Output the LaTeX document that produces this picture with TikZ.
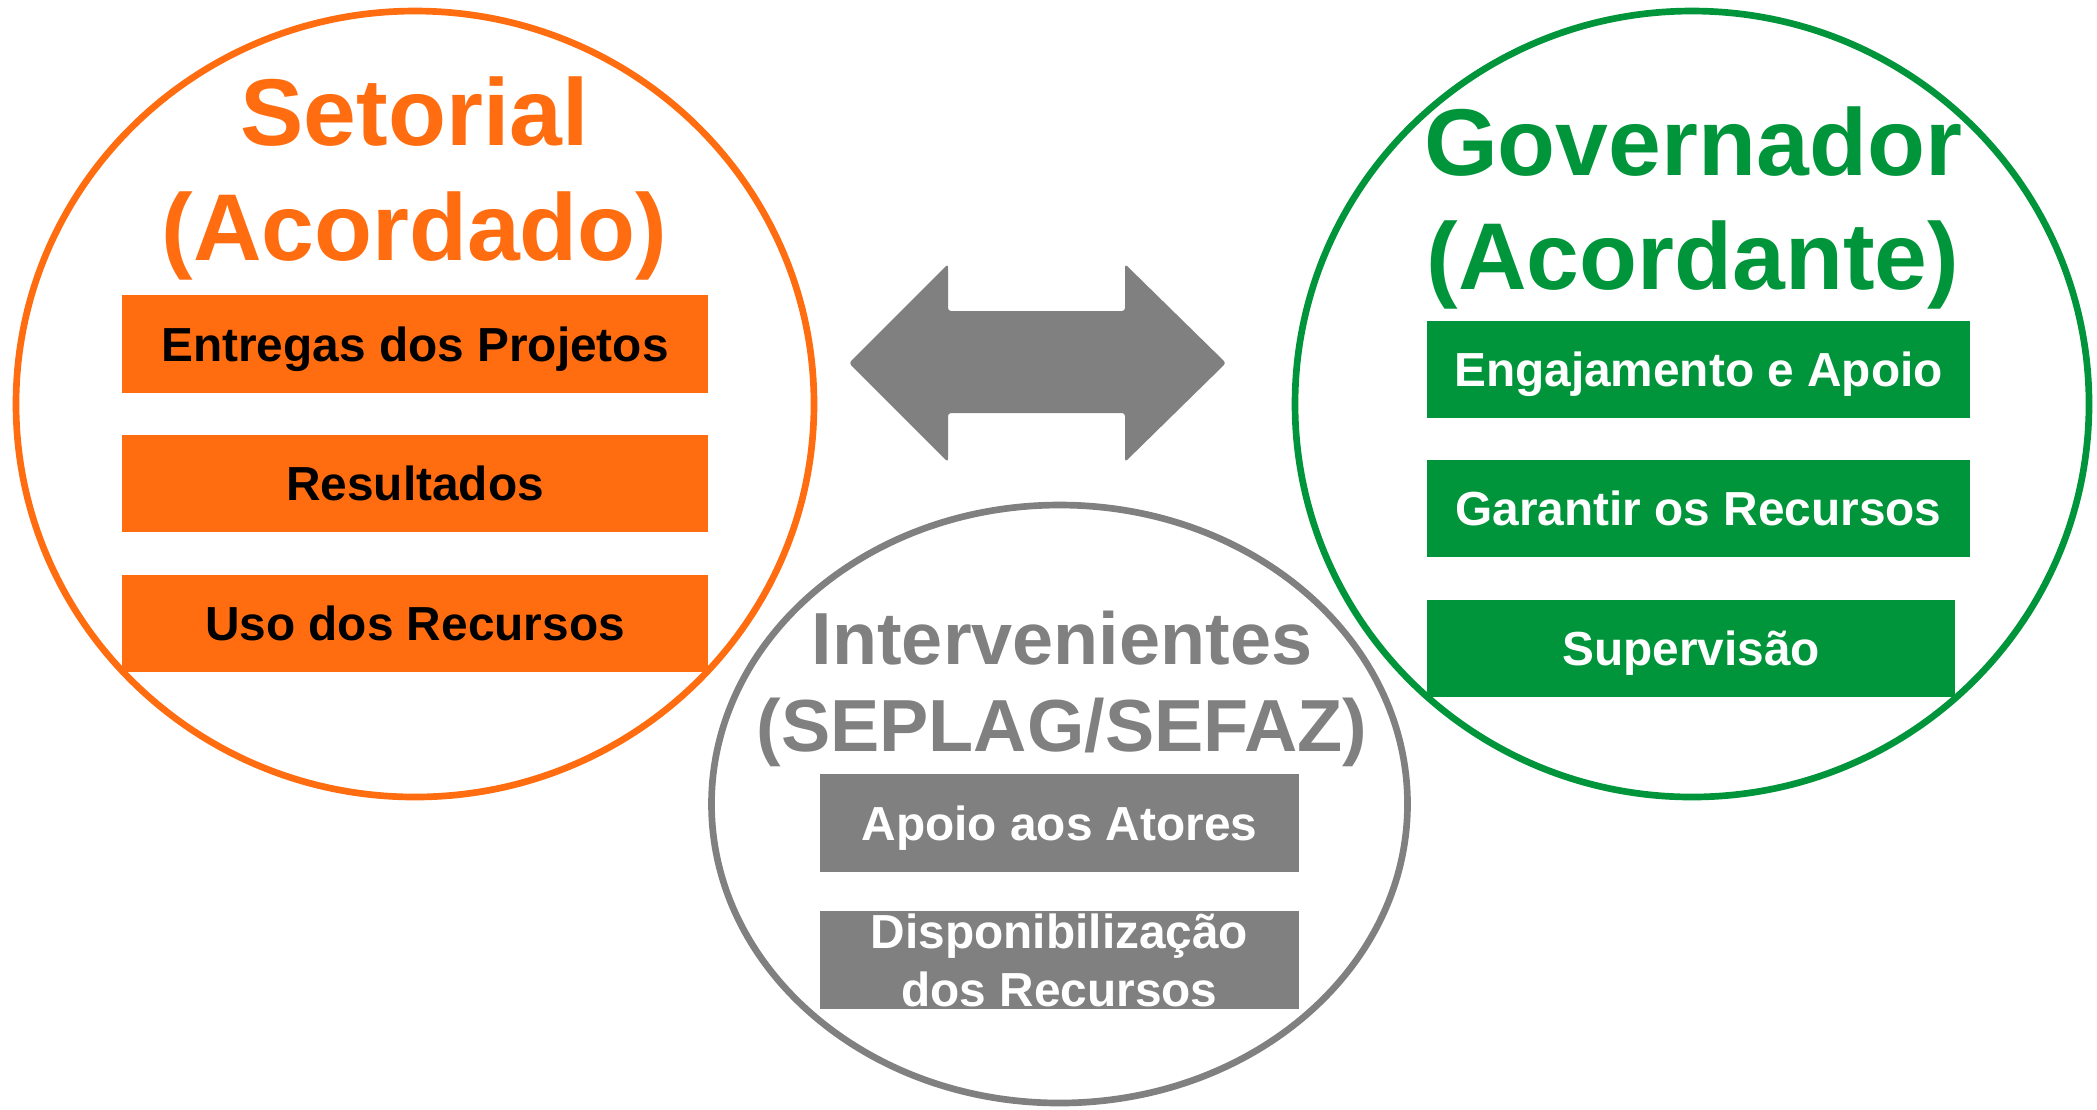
\documentclass[tikz,border=0pt]{standalone}
\usepackage{fontspec}
\setmainfont{Liberation Sans}
\usetikzlibrary{shapes.geometric}

\begin{document}
\begin{tikzpicture}[x=0.1mm,y=-0.1mm,
  ring/.style={ellipse,draw,line width=1.9pt,inner sep=0pt},
  bigtitle/.style={anchor=base,font=\bfseries\fontsize{27}{33}\selectfont},
  midtitle/.style={anchor=base,font=\bfseries\fontsize{21}{25}\selectfont},
  task/.style={rectangle,inner sep=0pt,minimum height=9.75mm,text height=3.4mm,text depth=0pt,
    font=\bfseries\fontsize{13.6}{16.4}\selectfont}]
\definecolor{orangeset}{HTML}{FF6D10}
\definecolor{greengov}{HTML}{00953A}
\definecolor{grayint}{HTML}{808080}
\useasboundingbox (0,0) rectangle (2097,1109);
% the three actors
\node [ring,draw=orangeset,minimum width=79.8mm,minimum height=78.6mm] (setorial) at (415,404) {};
\node [ring,draw=greengov,minimum width=79.4mm,minimum height=78.6mm] (governador) at (1692,404) {};
\node [ring,draw=grayint,minimum width=69.6mm,minimum height=59.8mm] (interv) at (1059.5,804) {};
% double arrow between Setorial and Governador
\fill [grayint,rounded corners=0.3mm] (849,363) -- (948,264) -- (948,311) -- (1125,311) -- (1125,264)
  -- (1226,363) -- (1125,462) -- (1125,413) -- (948,413) -- (948,462) -- cycle;
% titles
\node [bigtitle,text=orangeset] (setT1) at (414.5,145) {Setorial};
\node [bigtitle,text=orangeset] (setT2) at (414.5,260) {(Acordado)};
\node [bigtitle,text=greengov] (govT1) at (1693,175) {Governador};
\node [bigtitle,text=greengov] (govT2) at (1693,289) {(Acordante)};
\node [midtitle,text=grayint] (intT1) at (1062,664) {Intervenientes};
\node [midtitle,text=grayint] (intT2) at (1062,751) {(SEPLAG/SEFAZ)};
% boxes
\foreach \name/\txt/\ypos in {entregas/Entregas dos Projetos/344,resultados/Resultados/483.5,uso/Uso dos Recursos/623.5}
  {\node [task,fill=orangeset,text=black,minimum width=58.6mm] (\name) at (415,\ypos) {\txt};}
\foreach \name/\txt/\ypos in {engaj/Engajamento e Apoio/369.5,garantir/Garantir os Recursos/508.5}
  {\node [task,fill=greengov,text=white,minimum width=54.3mm] (\name) at (1698.5,\ypos) {\txt};}
\node [task,fill=greengov,text=white,minimum width=52.8mm] (superv) at (1691,648.5) {Supervisão};
\node [task,fill=grayint,text=white,minimum width=47.9mm] (apoio) at (1059.5,823) {Apoio aos Atores};
\node [task,fill=grayint,minimum width=47.9mm] (dispon) at (1059.5,960) {};
\node [anchor=base,text=white,font=\bfseries\fontsize{13.6}{16.4}\selectfont] (disponA) at (1059.5,948.5) {Disponibilização};
\node [anchor=base,text=white,font=\bfseries\fontsize{13.6}{16.4}\selectfont] (disponB) at (1059.5,1006) {dos Recursos};
\end{tikzpicture}
\end{document}
